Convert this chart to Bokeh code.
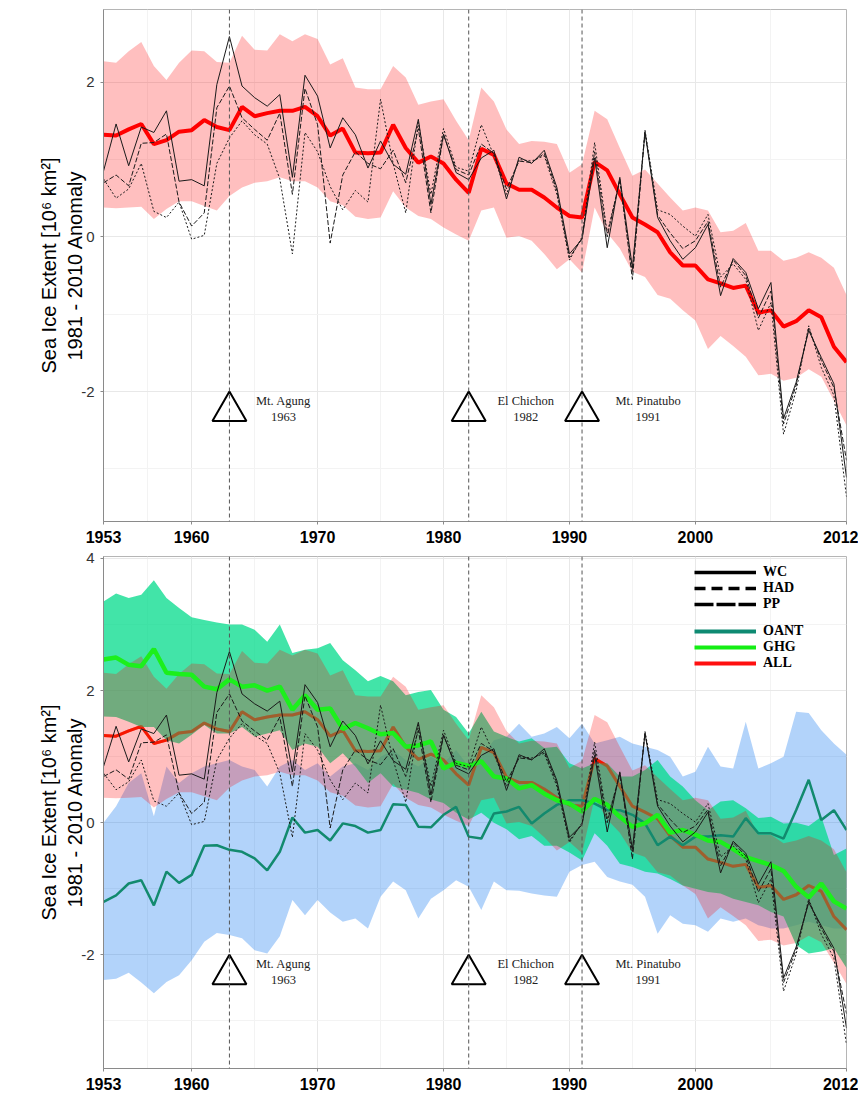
import math
from bokeh.plotting import figure
from bokeh.layouts import column
from bokeh.models import FixedTicker, Span, Legend, LegendItem, ColumnDataSource
from bokeh.core.properties import value
from bokeh.embed import file_html
from bokeh.resources import INLINE

# ---------------------------------------------------------------------------
# Arctic sea ice extent anomaly (10^6 km^2, relative to 1981-2010)
# ---------------------------------------------------------------------------
years = list(range(1953, 2013))

# observational reconstructions
wc = [0.85, 1.46, 0.92, 1.42, 1.35, 1.63, 0.72, 0.74, 0.66, 1.97,
      2.59, 1.95, 1.80, 1.69, 1.84, 0.77, 2.09, 1.82, 1.15, 1.54,
      1.32, 0.89, 1.24, 0.94, 0.81, 1.52, 0.42, 1.33, 0.83, 0.74,
      1.02, 1.12, 0.49, 1.03, 0.95, 1.12, 0.64, -0.22, -0.03, 1.02,
      -0.14, 0.77, -0.40, 1.35, 0.25, -0.05, -0.29, -0.14, 0.16, -0.76,
      -0.28, -0.46, -0.93, -0.59, -2.35, -1.88, -1.21, -1.56, -1.90, -3.11]
had = [0.75, 0.50, 0.62, 0.95, 0.33, 0.25, 0.45, -0.03, 0.02, 0.95,
       1.28, 1.50, 1.32, 1.20, 0.75, -0.22, 1.35, 1.10, 0.65, 0.35,
       0.60, 0.45, 1.78, 0.95, 0.31, 1.48, 0.55, 1.40, 0.90, 0.85,
       1.45, 1.05, 0.55, 1.00, 0.98, 1.05, 0.55, -0.30, 0.00, 1.22,
       0.05, 0.72, -0.45, 1.38, 0.35, 0.29, 0.14, 0.01, 0.29, -0.52,
       -0.35, -0.55, -1.21, -0.85, -2.55, -1.99, -1.15, -1.69, -2.05, -3.36]
pp = [0.70, 0.80, 0.66, 1.21, 1.22, 1.33, 0.45, 0.14, 0.31, 1.67,
      1.95, 1.54, 1.39, 1.25, 1.60, 0.55, 1.92, 1.45, -0.08, 0.80,
      1.10, 0.95, 0.88, 1.12, 0.70, 1.40, 0.31, 1.32, 0.87, 0.80,
      1.20, 1.08, 0.62, 0.98, 0.96, 1.08, 0.60, -0.27, -0.02, 1.10,
      0.00, 0.75, -0.55, 1.36, 0.28, 0.05, -0.15, -0.05, 0.20, -0.65,
      -0.30, -0.50, -1.05, -0.70, -2.42, -1.92, -1.18, -1.60, -1.95, -2.89]

# all-forcing ensemble: mean and spread
all_mean = [1.32, 1.31, 1.39, 1.46, 1.20, 1.25, 1.36, 1.38, 1.51, 1.42,
            1.38, 1.68, 1.56, 1.60, 1.63, 1.63, 1.68, 1.56, 1.31, 1.40,
            1.09, 1.08, 1.09, 1.45, 1.15, 0.96, 1.04, 0.95, 0.74, 0.57,
            1.14, 1.06, 0.69, 0.61, 0.61, 0.51, 0.38, 0.27, 0.25, 0.97,
            0.86, 0.55, 0.25, 0.16, 0.06, -0.20, -0.37, -0.37, -0.55, -0.60,
            -0.66, -0.63, -0.98, -0.95, -1.16, -1.09, -0.95, -1.04, -1.42, -1.62]
all_upper = [2.27, 2.25, 2.40, 2.52, 2.21, 2.03, 2.25, 2.41, 2.40, 2.26,
             2.25, 2.60, 2.42, 2.41, 2.62, 2.53, 2.62, 2.56, 2.23, 2.31,
             1.93, 1.91, 1.91, 2.21, 2.06, 1.71, 1.75, 1.78, 1.50, 1.25,
             1.93, 1.75, 1.39, 1.20, 1.24, 1.23, 1.20, 0.83, 0.94, 1.63,
             1.52, 1.15, 0.79, 0.87, 0.69, 0.51, 0.34, 0.38, 0.34, 0.06,
             0.08, 0.18, -0.18, -0.18, -0.31, -0.27, -0.20, -0.27, -0.40, -0.75]
all_lower = [0.38, 0.37, 0.38, 0.39, 0.23, 0.36, 0.46, 0.46, 0.40, 0.34,
             0.53, 0.64, 0.70, 0.72, 0.77, 0.72, 0.72, 0.64, 0.46, 0.41,
             0.26, 0.23, 0.25, 0.59, 0.38, 0.27, 0.23, 0.12, 0.03, -0.05,
             0.34, 0.38, -0.01, 0.01, -0.05, -0.22, -0.42, -0.29, -0.46, 0.38,
             0.05, -0.15, -0.45, -0.52, -0.75, -0.80, -0.95, -1.08, -1.45, -1.28,
             -1.41, -1.55, -1.79, -1.77, -1.86, -1.82, -1.71, -1.81, -2.12, -2.44]

# greenhouse-gas-only ensemble
ghg_mean = [2.47, 2.50, 2.39, 2.37, 2.63, 2.27, 2.25, 2.24, 2.06, 2.02,
            2.17, 2.06, 2.08, 2.00, 2.06, 1.71, 1.93, 1.71, 1.73, 1.42,
            1.51, 1.43, 1.34, 1.36, 1.15, 1.17, 1.23, 0.82, 0.91, 0.86,
            0.93, 0.70, 0.67, 0.52, 0.57, 0.44, 0.34, 0.29, 0.17, 0.36,
            0.27, 0.09, -0.06, -0.01, 0.12, -0.15, -0.11, -0.18, -0.27, -0.29,
            -0.40, -0.52, -0.58, -0.64, -0.73, -0.97, -1.13, -0.92, -1.19, -1.30]
ghg_upper = [3.35, 3.47, 3.40, 3.45, 3.67, 3.40, 3.25, 3.11, 3.07, 3.03,
             3.00, 3.00, 2.92, 2.74, 3.00, 2.57, 2.62, 2.64, 2.72, 2.46,
             2.31, 2.14, 2.22, 2.14, 1.93, 1.98, 2.01, 1.71, 1.60, 1.35,
             1.68, 1.38, 1.30, 1.23, 1.28, 1.13, 1.15, 0.90, 0.82, 0.90,
             0.90, 0.70, 0.70, 0.80, 0.95, 0.70, 0.55, 0.34, 0.19, 0.32,
             0.34, 0.22, 0.07, 0.09, -0.01, 0.00, -0.05, 0.09, -0.49, -0.39]
ghg_lower = [1.61, 1.60, 1.53, 1.45, 1.45, 1.25, 1.20, 1.33, 1.48, 1.35,
             1.35, 1.45, 1.30, 1.35, 1.40, 1.10, 1.20, 1.15, 0.90, 1.05,
             0.85, 0.60, 0.75, 0.55, 0.50, 0.45, 0.35, 0.30, 0.15, 0.05,
             0.15, 0.00, -0.10, -0.25, -0.20, -0.35, -0.35, -0.45, -0.57, -0.16,
             -0.35, -0.62, -0.67, -0.74, -0.77, -0.85, -0.95, -1.00, -1.05, -1.07,
             -1.15, -1.20, -1.25, -1.35, -1.42, -1.85, -1.98, -1.95, -1.90, -2.20]

# other-anthropogenic ensemble
oant_mean = [-1.20, -1.10, -0.92, -0.87, -1.25, -0.74, -0.91, -0.79, -0.35, -0.34,
             -0.41, -0.44, -0.54, -0.72, -0.44, 0.08, -0.15, -0.11, -0.27, -0.01,
             -0.05, -0.15, -0.11, 0.28, 0.27, -0.06, -0.07, 0.12, 0.24, -0.21,
             -0.24, 0.14, 0.17, 0.24, -0.01, 0.14, 0.27, 0.34, 0.34, 0.29,
             0.19, 0.19, 0.12, -0.01, -0.34, -0.21, -0.34, -0.21, -0.21, -0.19,
             -0.21, 0.07, -0.16, -0.16, -0.24, 0.19, 0.65, 0.04, 0.19, -0.11]
oant_upper = [0.00, 0.25, 0.60, 0.75, 0.10, 0.85, 0.60, 0.75, 0.85, 0.90,
              0.95, 0.85, 0.80, 0.55, 0.85, 0.95, 0.80, 0.90, 0.70, 0.85,
              0.90, 0.80, 1.00, 1.10, 0.95, 0.85, 1.00, 0.90, 1.10, 0.85,
              1.00, 1.25, 1.30, 1.50, 1.30, 1.35, 1.45, 1.28, 1.50, 1.20,
              1.25, 1.30, 1.20, 1.15, 1.10, 1.00, 0.70, 0.77, 1.15, 0.85,
              0.82, 1.53, 0.82, 0.90, 1.00, 1.68, 1.66, 1.40, 1.20, 1.03]
oant_lower = [-2.38, -2.36, -2.27, -2.42, -2.58, -2.41, -2.31, -2.08, -1.80, -1.67,
              -1.70, -1.75, -1.93, -1.98, -1.72, -1.17, -1.40, -1.17, -1.36, -1.50,
              -1.45, -1.60, -1.12, -0.89, -1.02, -1.45, -1.15, -1.02, -0.87, -0.97,
              -1.32, -0.89, -1.02, -1.03, -1.07, -1.10, -1.12, -0.74, -0.64, -0.59,
              -0.82, -0.89, -0.94, -1.12, -1.68, -1.40, -1.53, -1.55, -1.65, -1.45,
              -1.50, -1.45, -1.55, -1.60, -1.60, -1.55, -1.50, -1.55, -1.60, -1.60]

# volcanic eruptions
volcano_years = [1963, 1982, 1991]
volcano_names = ["Mt. Agung", "El Chichon", "Mt. Pinatubo"]

x_ticks = [1953, 1960, 1970, 1980, 1990, 2000, 2012]
x_minor = [1956.5, 1965, 1975, 1985, 1995, 2006]

Y_TITLE = "Sea Ice Extent [10\u2076 km\u00b2]\n1981 - 2010 Anomaly"
SANS = "Liberation Sans"
SERIF = "Liberation Serif"

FRAME_H = 512
TRI_SIZE = 34
NAN = float("nan")


def make_panel(y_start, y_end, y_ticks, y_minor, height, top):
    p = figure(width=858, height=height, x_range=(1953, 2012), y_range=(y_start, y_end),
               output_backend="svg", toolbar_location=None,
               min_border_left=103, min_border_right=12,
               min_border_top=top, min_border_bottom=height - top - FRAME_H)
    p.background_fill_color = "white"
    p.border_fill_color = "white"
    p.outline_line_color = "#b5b5b5"

    p.xaxis.ticker = FixedTicker(ticks=x_ticks, minor_ticks=x_minor)
    p.yaxis.ticker = FixedTicker(ticks=y_ticks, minor_ticks=y_minor)
    p.xaxis.major_label_overrides = {t: str(t) for t in x_ticks}
    p.yaxis.major_label_overrides = {t: str(t) for t in y_ticks}
    for ax in (p.xaxis, p.yaxis):
        ax.axis_line_color = "#8a8a8a"
        ax.major_tick_line_color = "#8a8a8a"
        ax.major_tick_out = 3
        ax.major_tick_in = 0
        ax.minor_tick_line_color = None
        ax.major_label_text_font = SANS
    p.xaxis.major_label_text_font_size = "16px"
    p.xaxis.major_label_text_font_style = "bold"
    p.xaxis.major_label_text_color = "black"
    p.xaxis.major_label_standoff = 5
    p.yaxis.major_label_text_font_size = "15px"
    p.yaxis.major_label_text_color = "#333333"
    p.yaxis.major_label_standoff = 5
    p.yaxis.axis_label = Y_TITLE
    p.yaxis.axis_label_text_font = SANS
    p.yaxis.axis_label_text_font_size = "20px"
    p.yaxis.axis_label_text_font_style = "normal"
    p.yaxis.axis_label_text_color = "black"
    p.yaxis.axis_label_standoff = -8

    for g in (p.xgrid, p.ygrid):
        g.grid_line_color = "#e8e8e8"
        g.grid_line_width = 1
        g.minor_grid_line_color = "#f3f3f3"
        g.minor_grid_line_width = 1
    return p


def add_volcanoes(p, y_start, y_end):
    for yr in volcano_years:
        p.add_layout(Span(location=yr, dimension="height", line_color="#555555",
                          line_width=1, line_dash="4 3"))
    ppu = FRAME_H / (y_end - y_start)
    tri_y = -2 - (TRI_SIZE / math.sqrt(3)) / ppu
    p.scatter(x=volcano_years, y=[tri_y] * len(volcano_years), marker="triangle",
              size=TRI_SIZE, fill_color=None, line_color="black", line_width=2)
    src = ColumnDataSource(dict(
        x=volcano_years, y=[-2] * len(volcano_years),
        label=[f"{n}\n{yr}" for n, yr in zip(volcano_names, volcano_years)],
        dx=[54, 57, 66]))
    p.text(x="x", y="y", text="label", x_offset="dx", y_offset=17, source=src,
           text_font=value(SERIF), text_font_size="12.5px", text_color="#222222",
           text_align="center", text_baseline="middle", text_line_height=1.15)


def add_obs(p):
    p.line(years, wc, line_color="#1a1a1a", line_width=1)
    p.line(years, had, line_color="#1a1a1a", line_width=1, line_dash="2 2")
    p.line(years, pp, line_color="#1a1a1a", line_width=1, line_dash="5 2")


# ---------------- top panel: ALL forcing only ----------------
TOP_Y = (-3.68, 2.94)
top = make_panel(TOP_Y[0], TOP_Y[1], [-2, 0, 2], [-3, -1, 1], 550, 9)
top.varea(x=years, y1=all_lower, y2=all_upper, fill_color="#ff0000", fill_alpha=0.25)
top.line(years, all_mean, line_color="#ff0000", line_width=4)
add_obs(top)
add_volcanoes(top, *TOP_Y)

# ---------------- bottom panel: ALL, GHG and OANT ----------------
BOT_Y = (-3.72, 4.03)
bot = make_panel(BOT_Y[0], BOT_Y[1], [-2, 0, 2, 4], [-3, -1, 1, 3], 547, 6)
bot.varea(x=years, y1=oant_lower, y2=oant_upper, fill_color="#006ef0", fill_alpha=0.3)
bot.line(years, all_mean, line_color="#ff0000", line_width=3)
bot.varea(x=years, y1=ghg_lower, y2=ghg_upper, fill_color="#00da8a", fill_alpha=0.74)
bot.varea(x=years, y1=all_lower, y2=all_upper, fill_color="#ff0000", fill_alpha=0.25)
# translucent pass of the ALL mean so it reads as brown where the GHG spread covers it
bot.line(years, all_mean, line_color="#e83a00", line_width=3, line_alpha=0.4)
bot.line(years, oant_mean, line_color="#128a6e", line_width=2.5)
bot.line(years, ghg_mean, line_color="#1cef1c", line_width=4.5)
add_obs(bot)
add_volcanoes(bot, *BOT_Y)

# legend keys (styled separately from the thin plotted lines; nothing is drawn in the frame)
key_x = years[:2]
key_y = [NAN, NAN]
k_wc = bot.line(key_x, key_y, line_color="black", line_width=3.5)
k_had = bot.line(key_x, key_y, line_color="black", line_width=3.5, line_dash="11 6")
k_pp = bot.line(key_x, key_y, line_color="black", line_width=3.5, line_dash="19 3")
k_oant = bot.line(key_x, key_y, line_color="#0e8a72", line_width=4)
k_ghg = bot.line(key_x, key_y, line_color="#14ee14", line_width=4)
k_all = bot.line(key_x, key_y, line_color="#ff1010", line_width=4)


def key_legend(items, loc):
    lg = Legend(items=items, location=loc, orientation="vertical",
                background_fill_alpha=0, border_line_color=None,
                glyph_width=62, glyph_height=14, label_height=14,
                label_standoff=7, spacing=-1, padding=0, margin=0,
                label_text_font=SERIF, label_text_font_size="14px",
                label_text_font_style="bold", label_text_color="black")
    bot.add_layout(lg)
    return lg


key_legend([LegendItem(label="WC", renderers=[k_wc]),
            LegendItem(label="HAD", renderers=[k_had]),
            LegendItem(label="PP", renderers=[k_pp])], (591, 456))
key_legend([LegendItem(label="OANT", renderers=[k_oant]),
            LegendItem(label="GHG", renderers=[k_ghg]),
            LegendItem(label="ALL", renderers=[k_all])], (591, 397))

layout = column(top, bot, spacing=0)
open("out.html", "w").write(file_html(layout, INLINE))
